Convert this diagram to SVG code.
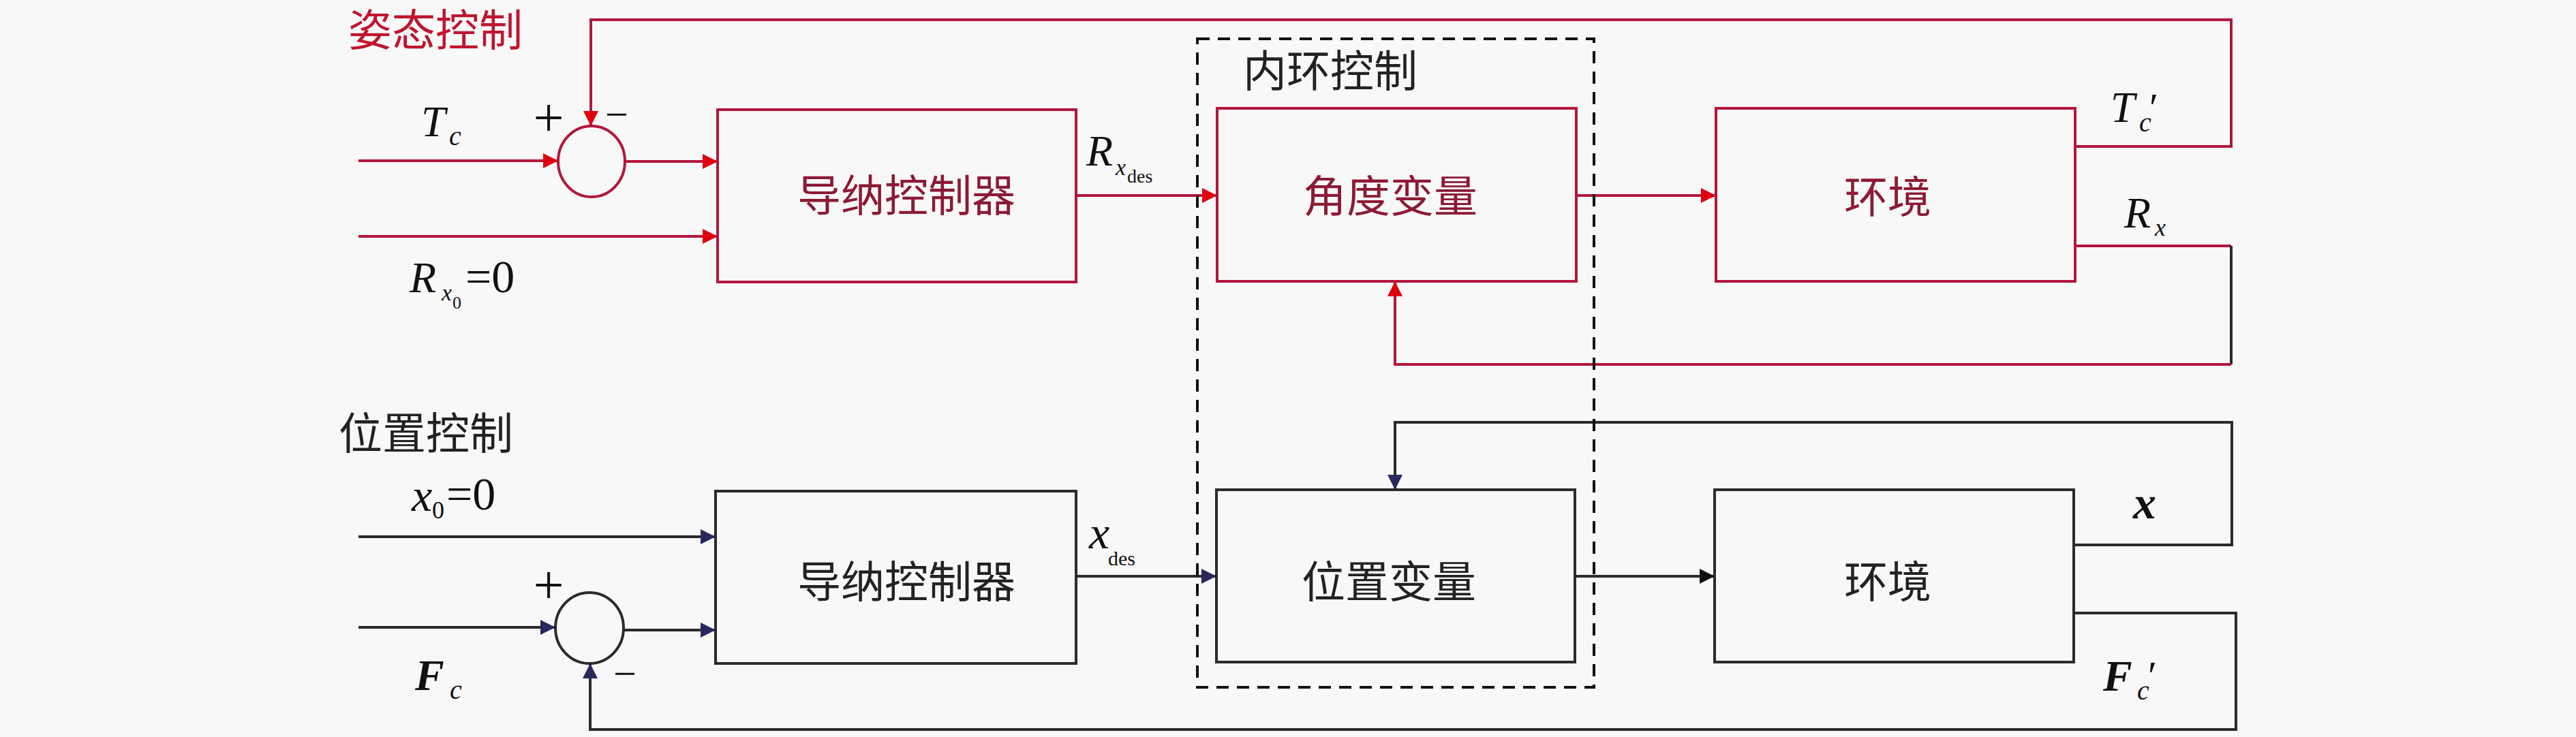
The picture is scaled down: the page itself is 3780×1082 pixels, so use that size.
<svg xmlns="http://www.w3.org/2000/svg" width="3780" height="1082" viewBox="0 0 3780 1082">
<style>
.bg{fill:#f8f8f8}
.rbox{fill:none;stroke:#b3163c;stroke-width:4}
.kbox{fill:none;stroke:#2b2b2b;stroke-width:4}
.rl{fill:none;stroke:#b3163c;stroke-width:4}
.kl{fill:none;stroke:#2b2b2b;stroke-width:4}
.dash{fill:none;stroke:#111;stroke-width:4;stroke-dasharray:18 12}
.cjk{font-family:"Noto Sans CJK SC","Noto Sans CJK JP",sans-serif;font-size:64px}
.cr{fill:#c0142e}
.cd{fill:#8c1a34}
.ck{fill:#222}
.m{font-family:"Liberation Serif","DejaVu Serif",serif;fill:#111}
.it{font-style:italic}
.bi{font-style:italic;font-weight:bold}
</style>
<defs>
<marker id="ar" viewBox="0 0 10 10" refX="10" refY="5" markerWidth="22" markerHeight="26" markerUnits="userSpaceOnUse" orient="auto"><path d="M0,0 L10,5 L0,10 z" fill="#e0000f"/></marker>
<marker id="an" viewBox="0 0 10 10" refX="10" refY="5" markerWidth="22" markerHeight="26" markerUnits="userSpaceOnUse" orient="auto"><path d="M0,0 L10,5 L0,10 z" fill="#28285e"/></marker>
<marker id="ak" viewBox="0 0 10 10" refX="10" refY="5" markerWidth="22" markerHeight="26" markerUnits="userSpaceOnUse" orient="auto"><path d="M0,0 L10,5 L0,10 z" fill="#111"/></marker>
</defs>
<rect class="bg" x="0" y="0" width="3780" height="1082"/>

<g id="connectors">
<path class="rl" d="M526,236 H819" marker-end="url(#ar)"/>
<path class="rl" d="M917,237 H1053" marker-end="url(#ar)"/>
<path class="rl" d="M526,347 H1053" marker-end="url(#ar)"/>
<path class="rl" d="M1579,287 H1786" marker-end="url(#ar)"/>
<path class="rl" d="M2313,287 H2518" marker-end="url(#ar)"/>
<path class="rl" d="M3045,215 H3274 V29 H867 V185" marker-end="url(#ar)"/>
<path class="rl" d="M3045,361 H3274"/>
<path class="kl" d="M3274,361 V535"/>
<path class="rl" d="M3274,535 H2047 V413" marker-end="url(#ar)"/>

<path class="kl" d="M526,788 H1050" marker-end="url(#an)"/>
<path class="kl" d="M526,921 H815" marker-end="url(#an)"/>
<path class="kl" d="M915,925 H1050" marker-end="url(#an)"/>
<path class="kl" d="M1579,846 H1785" marker-end="url(#an)"/>
<path class="kl" d="M2311,846 H2516" marker-end="url(#ak)"/>
<path class="kl" d="M3043,800 H3275 V620 H2047 V719" marker-end="url(#an)"/>
<path class="kl" d="M3043,900 H3281 V1071 H866 V974" marker-end="url(#an)"/>
</g>

<g id="inner-loop">
<rect class="dash" x="1757" y="57" width="582" height="952"/>
<text class="cjk ck" x="1824" y="127">内环控制</text>
</g>

<g id="attitude-title"><text class="cjk cr" x="511" y="67" font-size="62">姿态控制</text></g>
<g id="position-title"><text class="cjk ck" x="497" y="659">位置控制</text></g>

<g id="sum1">
<ellipse cx="868" cy="237" rx="49" ry="52" fill="none" stroke="#b3163c" stroke-width="4"/>
<text class="m" x="805" y="200" font-size="80" text-anchor="middle">+</text>
<text class="m" x="905" y="188" font-size="60" text-anchor="middle">−</text>
</g>
<g id="adm1">
<rect class="rbox" x="1053" y="161" width="526" height="253"/>
<text class="cjk cd" x="1330" y="310" text-anchor="middle">导纳控制器</text>
</g>
<g id="angle">
<rect class="rbox" x="1786" y="159" width="527" height="254"/>
<text class="cjk cd" x="2040" y="311" text-anchor="middle">角度变量</text>
</g>
<g id="env1">
<rect class="rbox" x="2518" y="159" width="527" height="254"/>
<text class="cjk cd" x="2770" y="312" text-anchor="middle">环境</text>
</g>

<g id="sum2">
<ellipse cx="865" cy="922" rx="50" ry="52" fill="none" stroke="#2b2b2b" stroke-width="4"/>
<text class="m" x="805" y="886" font-size="80" text-anchor="middle">+</text>
<text class="m" x="917" y="1009" font-size="60" text-anchor="middle">−</text>
</g>
<g id="adm2">
<rect class="kbox" x="1050" y="721" width="529" height="253"/>
<text class="cjk ck" x="1330" y="877" text-anchor="middle">导纳控制器</text>
</g>
<g id="pos">
<rect class="kbox" x="1785" y="719" width="526" height="253"/>
<text class="cjk ck" x="2038" y="877" text-anchor="middle">位置变量</text>
</g>
<g id="env2">
<rect class="kbox" x="2516" y="719" width="527" height="253"/>
<text class="cjk ck" x="2770" y="877" text-anchor="middle">环境</text>
</g>

<g id="labels">
<text class="m it" x="618" y="200" font-size="64">T</text>
<text class="m it" x="659" y="213" font-size="40">c</text>

<text class="m it" x="601" y="429" font-size="64">R</text>
<text class="m it" x="648" y="441" font-size="34">x</text>
<text class="m" x="664" y="453" font-size="26">0</text>
<text class="m" x="683" y="429" font-size="68">=0</text>

<text class="m it" x="1594" y="243" font-size="64">R</text>
<text class="m it" x="1637" y="257" font-size="34">x</text>
<text class="m" x="1654" y="268" font-size="28">des</text>

<text class="m it" x="3097" y="179" font-size="64">T</text>
<text class="m it" x="3139" y="193" font-size="40">c</text>
<text class="m" x="3154" y="178" font-size="60">′</text>

<text class="m it" x="3117" y="334" font-size="64">R</text>
<text class="m it" x="3162" y="346" font-size="36">x</text>

<text class="m it" x="604" y="750" font-size="68">x</text>
<text class="m" x="634" y="761" font-size="36">0</text>
<text class="m" x="655" y="748" font-size="68">=0</text>

<text class="m it" x="1598" y="805" font-size="68">x</text>
<text class="m" x="1626" y="830" font-size="30">des</text>

<text class="m bi" x="3130" y="761" font-size="68">x</text>

<text class="m bi" x="609" y="1013" font-size="64">F</text>
<text class="m it" x="660" y="1026" font-size="40">c</text>

<text class="m bi" x="3086" y="1014" font-size="64">F</text>
<text class="m it" x="3136" y="1027" font-size="40">c</text>
<text class="m" x="3152" y="1012" font-size="60">′</text>
</g>
</svg>
